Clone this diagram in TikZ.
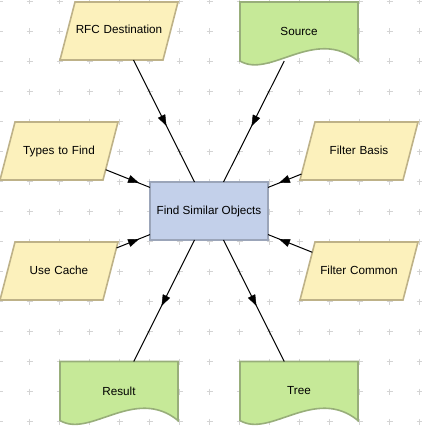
\documentclass[tikz,border=0pt]{standalone}
\usepackage{fontspec}
\setmainfont{Liberation Sans}
\usetikzlibrary{shapes.geometric, arrows.meta, decorations.markings, backgrounds}

\definecolor{inputfill}{RGB}{252,241,188}
\definecolor{inputline}{RGB}{190,178,136}
\definecolor{docfill}{RGB}{198,233,152}
\definecolor{docline}{RGB}{152,174,122}
\definecolor{stepfill}{RGB}{195,208,234}
\definecolor{stepline}{RGB}{155,165,185}
\definecolor{gridmark}{RGB}{212,212,212}

\begin{document}
\begin{tikzpicture}[x=1pt, y=-1pt,
    every node/.style={font=\fontsize{11.7}{14}\selectfont},
    input/.style={trapezium, trapezium left angle=75.5, trapezium right angle=104.5,
        draw=inputline, fill=inputfill, line width=1.6pt, inner xsep=0pt, inner ysep=23.5pt,
        text width=88pt, align=center, text height=8.5pt, text depth=2.5pt, outer sep=0pt},
    stepbox/.style={rectangle, draw=stepline, fill=stepfill, line width=2pt,
        minimum width=118pt, minimum height=58pt, inner sep=0pt, outer sep=0pt},
    docbox/.style={rectangle, minimum width=118pt, minimum height=59pt, inner sep=0pt, outer sep=0pt},
    docshape/.style={draw=docline, fill=docfill, line width=1.6pt},
    flow/.style={draw=black, line width=1pt},
    flowtip/.style={decoration={markings, mark=at position 0.5 with
        {\arrow[xshift=5.5pt]{Triangle[length=11pt, width=8pt]}}}, postaction={decorate}}]
    \useasboundingbox (0,0) rectangle (421,428);

    % Grid marks
    \begin{pgfonlayer}{background}
    \foreach \gx in {-0.5,29.5,...,419.5}
        \foreach \gy in {1.5,31.5,...,421.5}
            \draw[gridmark, line width=0.9pt] (\gx-3,\gy) -- (\gx+3,\gy) (\gx,\gy-3) -- (\gx,\gy+3);
    \end{pgfonlayer}

    % Inputs
    \node[input] (rfc) at (119,31) {RFC Destination};
    \node[input] (types) at (59,151) {Types to Find};
    \node[input] (basis) at (359,151) {Filter Basis};
    \node[input] (cache) at (59,271) {Use Cache};
    \node[input] (common) at (359,271) {Filter Common};

    % Step
    \node[stepbox] (find) at (209,211) {Find Similar Objects};

    % Documents
    \node[docbox] (source) at (299,31.5) {Source};
    \node[docbox] (result) at (119,391) {Result};
    \node[docbox] (tree) at (299,391) {Tree};
    \begin{pgfonlayer}{background}
    \foreach \d in {source, result, tree}
        \draw[docshape] (\d.south west) -- (\d.north west) -- (\d.north east) -- (\d.south east)
            .. controls +(-43,-35) and +(30,18) .. (\d.south west) -- cycle;
    \end{pgfonlayer}

    % Connectors
    \foreach \a/\b in {rfc/find, source/find, types/find, basis/find, cache/find, common/find, find/result, find/tree} {
        \draw[flow] (\a) -- (\b);
        \path[flowtip] (\a.center) -- (\b.center);
    }
\end{tikzpicture}
\end{document}
